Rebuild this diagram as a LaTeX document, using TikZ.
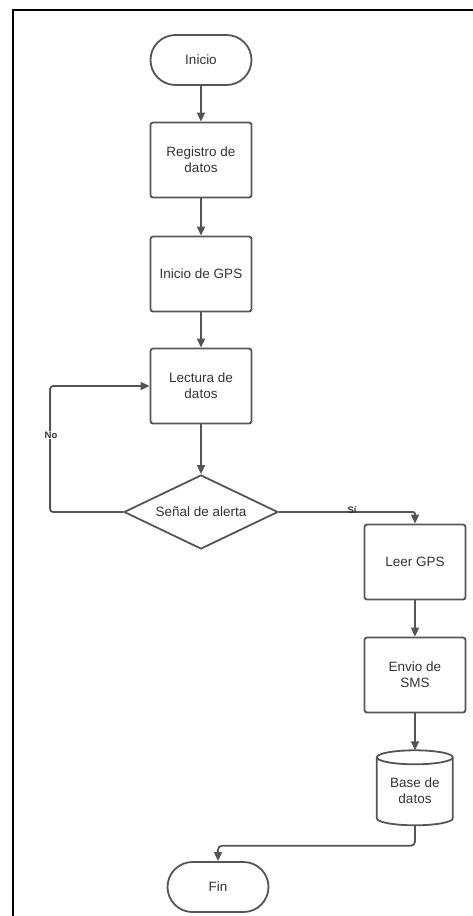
\documentclass[tikz,border=0pt]{standalone}
\usepackage{fontspec}
\setmainfont{Liberation Sans}
\usetikzlibrary{arrows.meta,shapes.geometric}
\definecolor{linegray}{HTML}{555555}
\definecolor{textgray}{HTML}{333333}
\begin{document}
\begin{tikzpicture}[x=1pt,y=-1pt,
  font=\fontsize{13.5}{16}\selectfont,
  every node/.style={text=textgray},
  proc/.style={draw=linegray, line width=1.8pt, rounded corners=2.5pt, minimum width=101pt, minimum height=75pt, align=center, inner sep=2pt},
  term/.style={draw=linegray, line width=1.8pt, rounded corners=25pt, minimum width=101pt, minimum height=50pt, align=center},
  decision/.style={draw=linegray, line width=1.8pt, diamond, aspect=2.08, minimum width=154pt, minimum height=74pt, inner sep=0pt, align=center},
  conn/.style={draw=linegray, line width=1.8pt, -{Triangle[length=9pt,width=8pt]}},
  lbl/.style={font=\bfseries\fontsize{9.5}{11}\selectfont, text=textgray, inner sep=1pt}
]
\useasboundingbox (0,0) rectangle (473,916);
% frame (top and left edges)
\draw[black, line width=2pt] (473,10) -- (13,10) -- (13,916);

\node[term] (inicio) at (201,60) {Inicio};
\node[proc] (reg) at (201,160) {Registro de\\datos};
\node[proc] (gps) at (201,274) {Inicio de GPS};
\node[proc] (lect) at (201,386) {Lectura de\\datos};
\node[decision] (dec) at (201,512) {Se\~nal de alerta};
\node[proc] (leer) at (415,562) {Leer GPS};
\node[proc] (sms) at (415,675) {Envio de\\SMS};
\node[minimum width=76pt, minimum height=75pt, inner sep=0pt] (db) at (415,788) {};
\node[align=center] (dbtxt) at (415,791) {Base de\\datos};
\node[term] (fin) at (218,887) {Fin};

% cylinder drawing
\draw[linegray, line width=1.8pt]
  (db.north west) ++(0,7)
  -- ++(0,61)
  arc[start angle=180, end angle=360, x radius=38pt, y radius=7pt]
  -- ++(0,-61)
  arc[start angle=0, end angle=180, x radius=38pt, y radius=7pt]
  arc[start angle=180, end angle=360, x radius=38pt, y radius=7pt];

\draw[conn] (inicio) -- (reg);
\draw[conn] (reg) -- (gps);
\draw[conn] (gps) -- (lect);
\draw[conn] (lect) -- (dec);
\draw[conn, rounded corners=3pt] (dec.west) -- ++(-73,0) |- (lect.west);
\node[lbl, fill=white] (no) at (51,435) {No};
\draw[conn, rounded corners=2pt] (dec.east) -| (leer.north);
\node[lbl] (si) at (352,510) {Sí};
\draw[conn] (leer) -- (sms);
\draw[conn] (sms) -- (db.north);
\draw[conn, rounded corners=4pt] (db.south) -- ++(0,20) -| (fin.north);
\end{tikzpicture}
\end{document}
